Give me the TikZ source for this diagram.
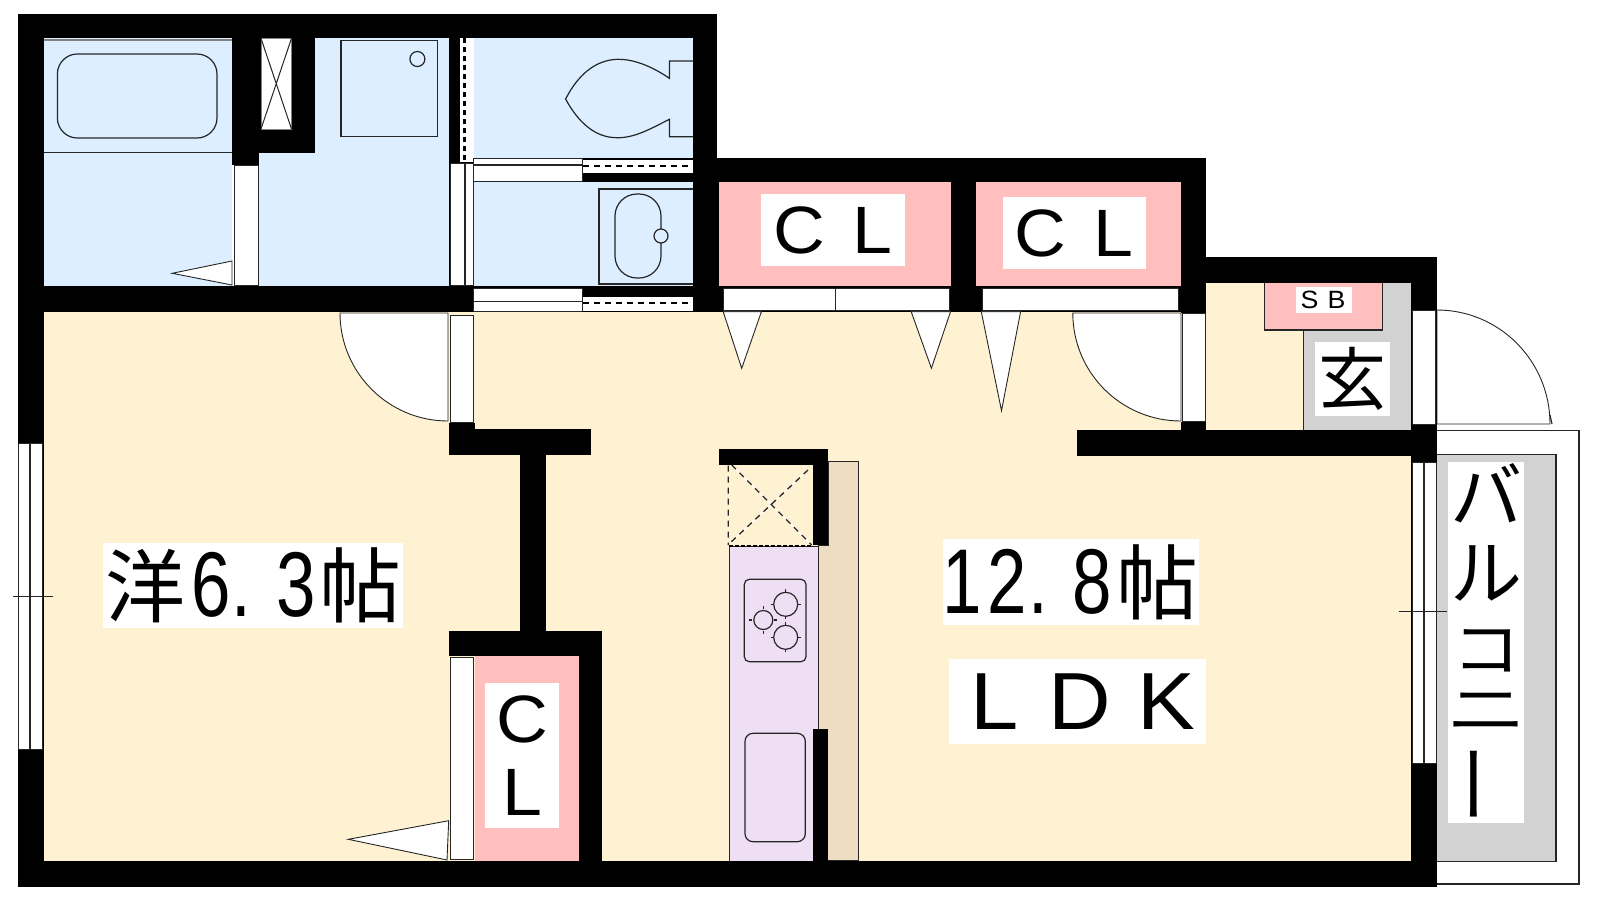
\documentclass[tikz,border=0pt]{standalone}
\usepackage{fontspec}
\usepackage{graphicx}
\newfontfamily\cjk{Noto Sans CJK JP}
\newfontfamily\dgfont[FakeStretch=0.77]{Liberation Sans}
\newfontfamily\ltfont[FakeStretch=1.07]{Liberation Sans}
\newcommand{\placeat}[2]{\rlap{\kern#1pt\makebox[0pt]{#2}}}
\newcommand{\vplace}[2]{\smash{\rlap{\raisebox{#1pt}{\makebox[0pt]{#2}}}}}
\newcommand{\fs}[1]{\fontsize{#1}{#1}\selectfont}
\definecolor{dk}{HTML}{262626}
\definecolor{blueroom}{HTML}{DCEEFF}
\definecolor{yellowroom}{HTML}{FFF2D2}
\definecolor{pinkroom}{HTML}{FFBFBF}
\definecolor{grayroom}{HTML}{D2D2D2}
\definecolor{purpleroom}{HTML}{EEDFF5}
\definecolor{beigeroom}{HTML}{EEDDC3}
\tikzset{
  wall/.style={fill=black},
  thin line/.style={draw=dk,line width=1.1pt},
  door/.style={fill=white,draw=dk,line width=.9pt},
  fixture/.style={draw=dk,line width=1.2pt},
  dashv/.style={draw=black,line width=3pt,dash pattern=on 5pt off 4pt},
  dashh/.style={draw=black,line width=2pt,dash pattern=on 6pt off 5pt},
  lab/.style={fill=white,inner sep=0pt,text=black,align=center},
}
\begin{document}
\begin{tikzpicture}[x=1pt,y=-1pt]
\useasboundingbox (0,0) rectangle (1600,900);
\fill[white] (0,0) rectangle (1600,900);
% room floors
\fill[yellowroom] (43.6,311.7) rectangle (1411,860.7);
\fill[yellowroom] (1205.8,283.3) rectangle (1303,430);
\fill[blueroom] (43.6,38.3) rectangle (232,286);
\fill[blueroom] (258.5,38.3) rectangle (448.6,286);
\fill[blueroom] (473.8,38.3) rectangle (693,286);
\fill[pinkroom] (719,182.3) rectangle (951,286);
\fill[pinkroom] (976.3,182.3) rectangle (1181,286);
\fill[pinkroom] (474.5,655.7) rectangle (578.7,860.7);
% entrance
\fill[grayroom] (1303,283.3) rectangle (1411,430);
\fill[pinkroom] (1264.7,283.3) rectangle (1382.6,330);
\draw[thin line] (1264.7,283.3) -- (1264.7,330) -- (1382.6,330) -- (1382.6,283.3);
\draw[draw=dk,line width=.8pt] (1303,330) -- (1303,430);
% balcony
\draw[thin line] (1436.5,430.7) -- (1579,430.7) -- (1579,884) -- (1436.5,884);
\filldraw[fill=grayroom,thin line] (1436.5,454.3) rectangle (1556,861.7);
% kitchen
\filldraw[fill=beigeroom,draw=dk,line width=1pt] (828.3,461.7) -- (858.3,461.7) -- (858.3,860.7) -- (818.3,860.7) -- (818.3,545) -- (828.3,545) -- cycle;
\filldraw[fill=purpleroom,draw=dk,line width=1.1pt] (729.3,860.7) -- (729.3,546.7) -- (818.3,546.7) -- (818.3,860.7);
\draw[fixture,rounded corners=5pt] (744.3,579.3) rectangle (806,661.7);
\draw[fixture,rounded corners=8pt] (745,733.3) rectangle (805.3,841.7);
\draw[fixture] (785.7,604.3) circle (12);
\draw[fixture] (763.3,620) circle (9.5);
\draw[fixture] (785.7,637.3) circle (12);
\foreach \cx/\cy/\rr in {785.7/604.3/15,763.3/620/14,785.7/637.3/15}{
  \draw[fixture] (\cx,\cy-\rr) -- (\cx,\cy-\rr+3) (\cx,\cy+\rr) -- (\cx,\cy+\rr-3)
                 (\cx-\rr,\cy) -- (\cx-\rr+3,\cy) (\cx+\rr,\cy) -- (\cx+\rr-3,\cy);
}
\draw[white,line width=1.2pt] (731.7,465) -- (811.7,545) (808,470) -- (730,543) ;
\draw[dk,line width=1.3pt,dash pattern=on 6pt off 5pt] (731.7,465) -- (811.7,545) (808,470) -- (730,543) (728.3,465.7) -- (728.3,545);
\draw[black,line width=1.6pt,dash pattern=on 4pt off 2pt] (729,545.7) -- (813,545.7);
% walls
\fill[wall] (17.5,14.3) rectangle (717,38.3);
\fill[wall] (17.5,14.3) rectangle (43.6,886.7);
\fill[wall] (693,14.3) rectangle (717,311.7);
\fill[wall] (717,182) rectangle (719,286);
\fill[wall] (232,38) rectangle (258.5,165);
\fill[wall] (232,38) rectangle (315,152.7);
\fill[wall] (448.6,38.3) rectangle (473.8,311.7);
\fill[wall] (17.5,286) rectangle (717,311.7);
\fill[wall] (473.8,158) rectangle (693,181.7);
\fill[wall] (693,158.3) rectangle (1205.8,182.3);
\fill[wall] (693,286) rectangle (1205.8,311.7);
\fill[wall] (951,158.3) rectangle (976.3,311.7);
\fill[wall] (1181,158.3) rectangle (1205.8,313);
\fill[wall] (1181,257.3) rectangle (1436.5,283.3);
\fill[wall] (1411,257.3) rectangle (1436.5,886.7);
\fill[wall] (1181,421.7) rectangle (1205.8,430);
\fill[wall] (1077.3,430) rectangle (1436.5,455.7);
\fill[wall] (448.7,423) rectangle (474.5,455);
\fill[wall] (448.7,429.3) rectangle (591.3,455);
\fill[wall] (520,455) rectangle (546,632);
\fill[wall] (448.7,631.3) rectangle (602.3,655.7);
\fill[wall] (578.7,655.7) rectangle (602.3,860.7);
\fill[wall] (17.5,860.7) rectangle (1436.5,886.7);
\fill[wall] (718.6,449.3) rectangle (828.3,465);
\fill[wall] (813.3,449.3) rectangle (828.3,545);
\fill[wall] (813.3,729.3) rectangle (828.3,860.7);
% bath
\draw[draw=gray,line width=2pt] (44,40) -- (232,40);
\draw[draw=dk,line width=1pt] (44,152.5) -- (232,152.5);
\draw[fixture,rounded corners=20pt] (57.4,54) rectangle (217,138);
% storage with cross
\filldraw[fill=white,draw=gray,line width=.8pt] (261,38.3) rectangle (291.5,129);
\draw[dk,line width=1pt] (261,38.3) -- (291.5,129) (291.5,38.3) -- (261,129);
% washer pan
\draw[fixture] (341,40.7) rectangle (437.5,136.7);
\draw[fixture] (417.4,59) circle (7.5);
% toilet
\draw[fixture] (693,61) -- (669.4,61) -- (669.4,78.3) .. controls (650,65) and (632,59) .. (617.5,59.3) .. controls (595,60) and (578,75) .. (565.6,99) .. controls (578,122) and (595,138) .. (617.5,137.7) .. controls (635,138) and (652,128) .. (669.4,119.3) -- (669.4,136.7) -- (693,136.7);
% basin
\draw[fixture] (693,189) -- (599,189) -- (599,284) -- (693,284);
\draw[fixture,rounded corners=22pt] (615,194) rectangle (661,278);
\filldraw[fill=blueroom,fixture] (661,236) circle (7);
% doors of the wet rooms
\filldraw[door] (234,165) rectangle (258,285);
\filldraw[door] (232,261) -- (172.2,273.3) -- (232,285) -- cycle;
\filldraw[door] (450,163) rectangle (473.5,285);
\draw[thin line] (465,163) -- (465,285);
\fill[white] (459.5,38.3) rectangle (473.8,162);
\draw[dashv] (464.6,38.3) -- (464.6,162);
\filldraw[door] (473.8,158) rectangle (582,181);
\draw[thin line] (473.8,165) -- (582,165);
\fill[white] (583,160) rectangle (693,173.3);
\draw[dashh] (583,165.7) -- (693,165.7);
\filldraw[door] (473.8,288.3) rectangle (582,311);
\draw[thin line] (473.8,301.7) -- (582,301.7);
\fill[white] (583,296.7) rectangle (693,310.7);
\draw[dashh] (583,302.7) -- (693,302.7);
% closet doors
\filldraw[door] (723,288.3) rectangle (949,310.7);
\draw[thin line] (835.4,288.3) -- (835.4,310.7);
\filldraw[door] (982,288.3) rectangle (1178,310.7);
\filldraw[door] (723.2,311.7) -- (741.7,368.3) -- (761.4,311.7) -- cycle;
\filldraw[door] (911.2,311.7) -- (931.4,368.3) -- (950.5,311.7) -- cycle;
\filldraw[door] (981.3,311.7) -- (1001.5,410.7) -- (1020.6,311.7) -- cycle;
% swinging doors
\filldraw[door] (448,313) -- (340,313) .. controls (340,372.6) and (388.4,421) .. (448,421) -- cycle;
\filldraw[door] (450,315) rectangle (473.5,422.7);
\filldraw[door] (1181,313) -- (1072.8,313) .. controls (1072.8,372.8) and (1121.2,421) .. (1181,421) -- cycle;
\filldraw[door] (1182,313) rectangle (1205,421.7);
\filldraw[door] (1412,310) rectangle (1435.5,424);
\filldraw[door] (1437,310) .. controls (1499.4,310) and (1550,361) .. (1550,424) -- (1437,424) -- cycle;
\draw[thin line] (1550,415) -- (1552,424);
% closet door of the bedroom
\filldraw[door] (450,657) rectangle (473,859.3);
\filldraw[door] (448.7,820.7) -- (348.3,839.3) -- (447,860) -- cycle;
% windows
\filldraw[door] (18,443.3) rectangle (42.8,749.3);
\draw[thin line] (30,443.3) -- (30,749.3);
\draw[thin line] (13,596.7) -- (53,596.7);
\filldraw[door] (1412,462.3) rectangle (1436,763.3);
\draw[thin line] (1424,462.3) -- (1424,763.3);
\draw[thin line] (1399.3,611.7) -- (1447.3,611.7);
% labels
\node[lab,minimum width=300pt,minimum height=85.6pt] (yo) at (253,585.5) {\hbox to 300pt{\placeat{42.5}{\cjk\fs{80}洋}\placeat{108.5}{\dgfont\fs{92}6}\placeat{138.4}{\dgfont\fs{92}.}\placeat{193}{\dgfont\fs{92}3}\placeat{257.7}{\cjk\fs{82}帖}\hfill}};
\node[lab,minimum width=256.6pt,minimum height=85.7pt] (ldkarea) at (1071,582.2) {\hbox to 256.6pt{\placeat{19}{\dgfont\fs{92}1}\placeat{64.3}{\dgfont\fs{92}2}\placeat{95.3}{\dgfont\fs{92}.}\placeat{149.3}{\dgfont\fs{92}8}\placeat{214.3}{\cjk\fs{82}帖}\hfill}};
\node[lab,minimum width=256.7pt,minimum height=85pt] (ldk) at (1077.6,701.8) {\hbox to 256.7pt{\ltfont\fs{81}\placeat{45.7}{L}\placeat{130.7}{D}\placeat{216.7}{K}\hfill}};
\node[lab,minimum width=143.6pt,minimum height=72pt] (cla) at (833.2,230) {\hbox to 143.6pt{\ltfont\fs{67}\placeat{37.6}{C}\placeat{111}{L}\hfill}};
\node[lab,minimum width=143.1pt,minimum height=72pt] (clb) at (1074.2,233.3) {\hbox to 143.1pt{\ltfont\fs{67}\placeat{37.3}{C}\placeat{110.3}{L}\hfill}};
\node[lab,minimum width=74.5pt,minimum height=144.7pt,font=\ltfont\fontsize{67}{73}\selectfont] (clc) at (522.2,755.6) {C\\L};
\node[lab,minimum width=56pt,minimum height=26.6pt] (sb) at (1324,300) {\hbox to 56pt{\ltfont\fs{25}\placeat{13.6}{S}\placeat{40.6}{B}\hfill}};
\node[lab,minimum width=75.4pt,minimum height=73.7pt,font=\cjk\fs{68}] (gen) at (1352.7,379.2) {玄};
\node[lab,minimum width=76pt,minimum height=361pt,font=\cjk\fs{72}] (balc) at (1486.3,642.8) {\vplace{120.5}{バ}\vplace{43.5}{ル}\vplace{-29}{\scalebox{.95}[.85]{コ}}\vplace{-88}{\scalebox{1.12}[.8]{ニ}}\vplace{-157}{\rotatebox[origin=c]{90}{\scalebox{1.15}[1]{ー}}}};
\end{tikzpicture}
\end{document}
